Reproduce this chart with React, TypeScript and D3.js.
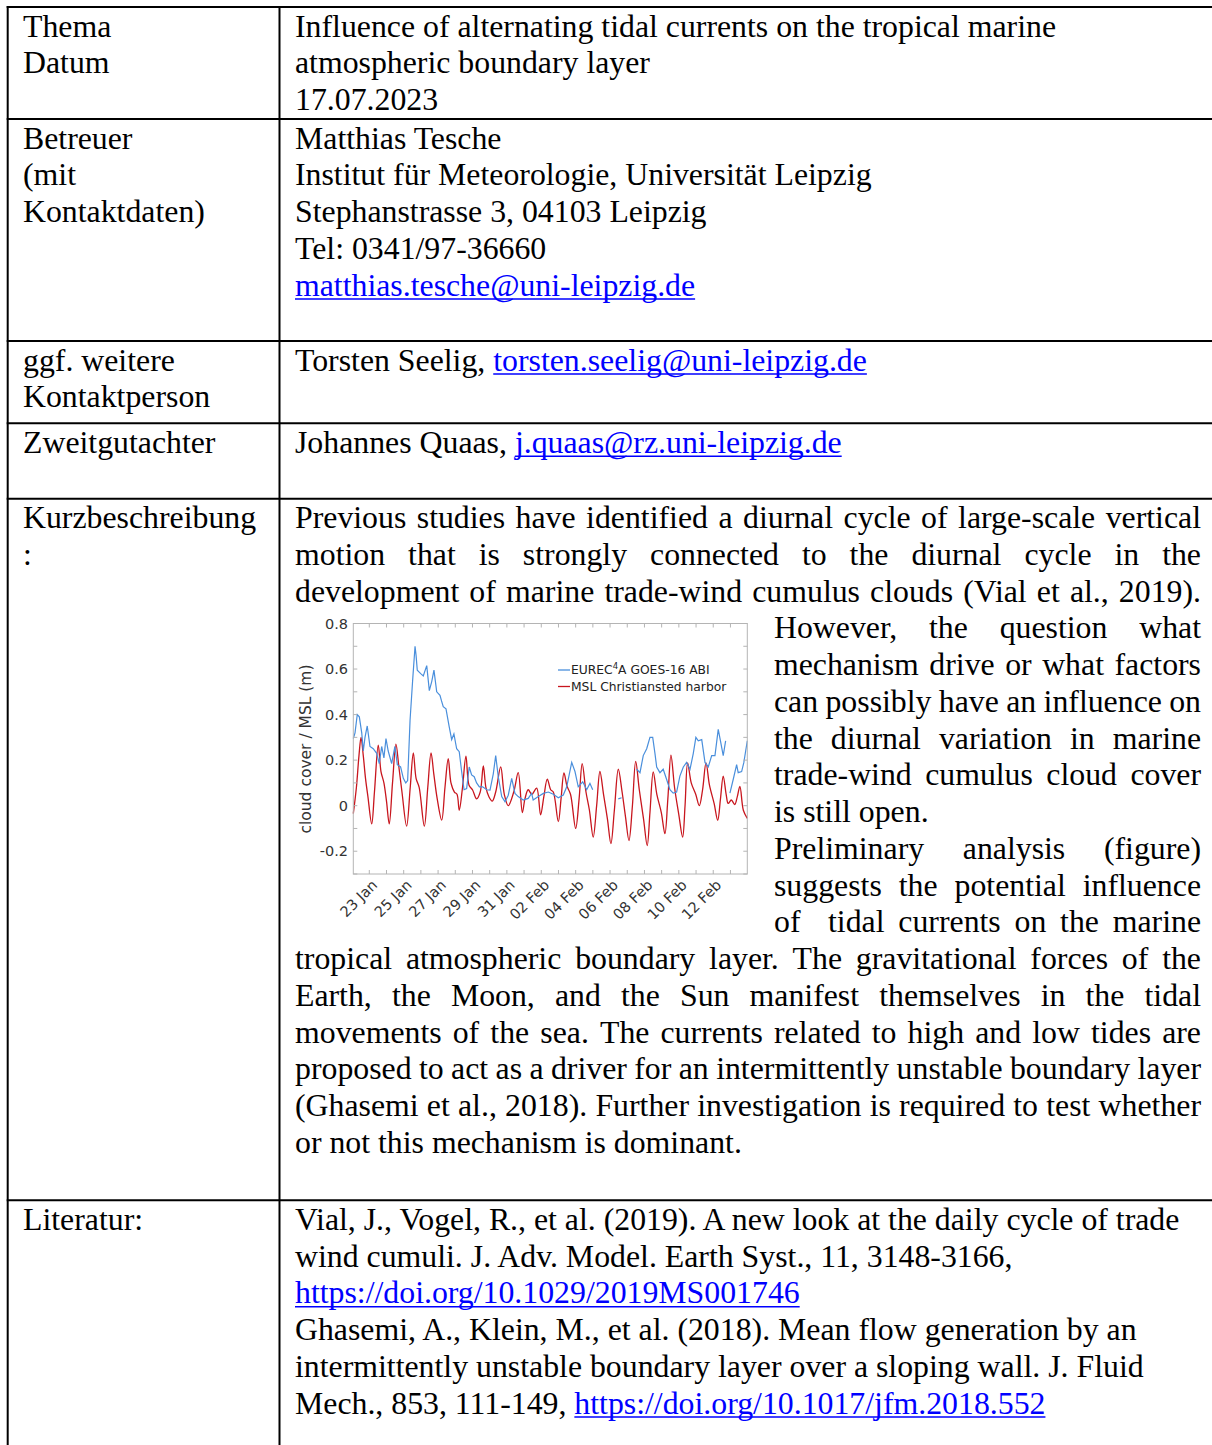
import React, { useMemo } from 'react';
import * as d3 from 'd3';

// ---- page / table layout ----
const SERIF = '"Liberation Serif", "Times New Roman", serif';
const SANS = '"DejaVu Sans", Verdana, sans-serif';
const FS = 31.8;
const LH = 36.75;
const LEFT_X = 23;
const RIGHT_X = 295;
const RIGHT_END = 1201;
const WRAP_X = 774;
const colLines = [7.7, 279.5];
const rowLines = [7, 119, 341, 423.3, 498.7, 1200.3];

const leftLabels = [
  ['Thema', 'Datum'],
  ['Betreuer', '(mit', 'Kontaktdaten)'],
  ['ggf. weitere', 'Kontaktperson'],
  ['Zweitgutachter'],
  ['Kurzbeschreibung', ':'],
  ['Literatur:'],
];

type Seg = { t: string; link?: boolean };

const themaLines: Seg[][] = [
  [{ t: 'Influence of alternating tidal currents on the tropical marine' }],
  [{ t: 'atmospheric boundary layer' }],
  [{ t: '17.07.2023' }],
];
const betreuerLines: Seg[][] = [
  [{ t: 'Matthias Tesche' }],
  [{ t: 'Institut für Meteorologie, Universität Leipzig' }],
  [{ t: 'Stephanstrasse 3, 04103 Leipzig' }],
  [{ t: 'Tel: 0341/97-36660' }],
  [{ t: 'matthias.tesche@uni-leipzig.de', link: true }],
];
const kontaktLines: Seg[][] = [
  [{ t: 'Torsten Seelig, ' }, { t: 'torsten.seelig@uni-leipzig.de', link: true }],
];
const gutachterLines: Seg[][] = [
  [{ t: 'Johannes Quaas, ' }, { t: 'j.quaas@rz.uni-leipzig.de', link: true }],
];
const literaturLines: Seg[][] = [
  [{ t: 'Vial, J., Vogel, R., et al. (2019). A new look at the daily cycle of trade' }],
  [{ t: 'wind cumuli. J. Adv. Model. Earth Syst., 11, 3148-3166,' }],
  [{ t: 'https://doi.org/10.1029/2019MS001746', link: true }],
  [{ t: 'Ghasemi, A., Klein, M., et al. (2018). Mean flow generation by an' }],
  [{ t: 'intermittently unstable boundary layer over a sloping wall. J. Fluid' }],
  [{ t: 'Mech., 853, 111-149, ' }, { t: 'https://doi.org/10.1017/jfm.2018.552', link: true }],
];

const summaryLines = [
  'Previous studies have identified a diurnal cycle of large-scale vertical',
  'motion that is strongly connected to the diurnal cycle in the',
  'development of marine trade-wind cumulus clouds (Vial et al., 2019).',
  'However, the question what',
  'mechanism drive or what factors',
  'can possibly have an influence on',
  'the diurnal variation in marine',
  'trade-wind cumulus cloud cover',
  'is still open.',
  'Preliminary analysis (figure)',
  'suggests the potential influence',
  'of  tidal currents on the marine',
  'tropical atmospheric boundary layer. The gravitational forces of the',
  'Earth, the Moon, and the Sun manifest themselves in the tidal',
  'movements of the sea. The currents related to high and low tides are',
  'proposed to act as a driver for an intermittently unstable boundary layer',
  '(Ghasemi et al., 2018). Further investigation is required to test whether',
  'or not this mechanism is dominant.',
];
const narrowFrom = 3;
const narrowTo = 11;
const raggedLines = [8, 17];

// ---- chart data (days since 22 Jan 2020 00:00 UTC) ----
const cloudDay = [
  0.07, 0.17, 0.3, 0.42, 0.56, 0.65, 0.75, 0.88, 1.04, 1.23, 1.43, 1.58, 1.72, 1.85, 1.97, 2.1,
  2.3, 2.49, 2.63, 2.82, 2.98, 3.12, 3.23, 3.37, 3.52, 3.66, 3.72, 3.79, 3.99, 4.14, 4.34, 4.49,
  4.63, 4.76, 4.92, 5.11, 5.2, 5.3, 5.46, 5.65, 5.79, 5.92, 6.08, 6.23, 6.37, 6.51, 6.66, 6.81,
  6.95, 7.1, 7.24, 7.4, 7.59, 7.83, 8.02, 8.21, 8.35, 8.5, 8.7, 8.89, 9.08, 9.28, 9.47, 9.66,
  9.95, 10.24, 10.44, 10.53, 10.83, 11.12, 11.41, 11.7, 11.99, 12.28, 12.48, 12.77, 12.96, 13.15,
  13.41, 13.64, 13.83, 13.99, 14.5, 15.48, 15.67, 16.1, 16.55, 16.74, 16.93, 17.13, 17.32, 17.48,
  17.61, 17.71, 17.9, 18.09, 18.29, 18.48, 18.67, 18.87, 19.06, 19.26, 19.45, 19.65, 19.84, 19.99,
  20.13, 20.33, 20.52, 20.71, 20.91, 21.1, 21.29, 21.43, 21.58, 21.72, 21.85, 21.97, 22.16, 22.36,
  22.45, 22.65, 22.78, 22.98,
];
const cloudCover = [
  0.295, 0.32, 0.4, 0.39, 0.32, 0.24, 0.3, 0.35, 0.26, 0.25, 0.23, 0.185, 0.26, 0.21, 0.295, 0.24,
  0.185, 0.26, 0.18, 0.17, 0.12, 0.1, 0.11, 0.375, 0.55, 0.7, 0.66, 0.595, 0.58, 0.57, 0.615, 0.505,
  0.545, 0.595, 0.5, 0.485, 0.46, 0.435, 0.425, 0.345, 0.29, 0.315, 0.25, 0.237, 0.15, 0.07, 0.075, 0.17,
  0.135, 0.127, 0.1, 0.083, 0.083, 0.07, 0.068, 0.14, 0.22, 0.127, 0.04, 0.017, 0.046, 0.12, 0.054, 0.04,
  0.025, 0.032, 0.054, 0.025, 0.04, 0.054, 0.06, 0.05, 0.035, 0.047, 0.083, 0.19, 0.15, 0.083,
  0.105, 0.07, 0.098, 0.07, null, 0.03, 0.035, null, 0.16, 0.145, 0.22, 0.25, 0.3, 0.3,
  0.23, 0.17, 0.145, 0.16, 0.115, 0.07, 0.055, 0.06, 0.13, 0.17, 0.19, 0.16, 0.23, 0.3,
  0.285, 0.29, 0.19, 0.17, 0.22, 0.22, 0.335, 0.28, 0.22, 0.285, null, 0.055, 0.115, 0.18,
  0.145, 0.15, 0.19, 0.285,
];

const tideDay = [
  0.07, 0.25, 0.4, 0.52, 0.65, 0.78, 0.92, 1.14, 1.3, 1.52, 1.68, 1.85, 2.0, 2.16, 2.35, 2.55,
  2.72, 2.9, 3.17, 3.38, 3.56, 3.72, 3.9, 4.2, 4.4, 4.59, 4.75, 4.95, 5.21, 5.4, 5.59, 5.75,
  5.95, 6.1, 6.23, 6.42, 6.62, 6.8, 7.0, 7.24, 7.45, 7.63, 7.78, 7.95, 8.15, 8.35, 8.64, 8.85,
  9.08, 9.4, 9.66, 9.9, 10.05, 10.24, 10.45, 10.73, 10.96, 11.15, 11.35, 11.55, 11.7, 11.99,
  12.15, 12.32, 12.5, 12.7, 13.0, 13.2, 13.38, 13.6, 13.8, 14.02, 14.22, 14.41, 14.62, 14.85,
  15.05, 15.25, 15.48, 15.7, 15.9, 16.1, 16.3, 16.49, 16.7, 16.95, 17.16, 17.32, 17.51, 17.72,
  17.98, 18.19, 18.36, 18.54, 18.75, 19.0, 19.22, 19.36, 19.51, 19.72, 19.98, 20.19, 20.38, 20.58,
  20.78, 21.05, 21.26, 21.42, 21.58, 21.75, 21.87, 22.05, 22.25, 22.4, 22.55, 22.75, 22.98,
];
const tideLevel = [
  -0.035, 0.08, 0.22, 0.3, 0.22, 0.12, 0.04, -0.08, 0.06, 0.266, 0.15, 0.1, 0.02, -0.08, 0.1, 0.27,
  0.17, 0.06, -0.09, 0.08, 0.232, 0.12, 0.08, -0.09, 0.08, 0.232, 0.14, 0.03, -0.063, 0.08, 0.207, 0.1,
  0.06, 0.05, -0.02, 0.08, 0.218, 0.09, 0.07, 0.03, 0.06, 0.175, 0.08, 0.04, 0.02, 0.06, 0.17, 0.05,
  0.0, 0.06, 0.145, -0.03, 0.03, 0.07, 0.05, 0.077, -0.04, 0.04, 0.117, 0.07, 0.06, -0.07,
  0.03, 0.144, 0.085, 0.05, -0.1, 0.03, 0.185, 0.06, -0.02, -0.138, 0.0, 0.15, 0.05, -0.06,
  -0.167, -0.02, 0.16, 0.06, -0.05, -0.153, 0.0, 0.195, 0.07, -0.06, -0.175, -0.03, 0.148, 0.05,
  -0.03, -0.123, 0.03, 0.222, 0.08, -0.04, -0.138, 0.0, 0.188, 0.1, 0.05, 0.0, 0.07, 0.188,
  0.09, 0.01, -0.064, 0.03, 0.13, 0.05, 0.01, 0.025, 0.005, 0.04, 0.085, -0.02, -0.056,
];

const xTickDays = [1, 3, 5, 7, 9, 11, 13, 15, 17, 19, 21];
const xTickLabels = ['23 Jan', '25 Jan', '27 Jan', '29 Jan', '31 Jan', '02 Feb', '04 Feb', '06 Feb', '08 Feb', '10 Feb', '12 Feb'];
const yTicks = [-0.2, 0, 0.2, 0.4, 0.6, 0.8];
const legendLabels = ['EUREC4A GOES-16 ABI', 'MSL Christiansted harbor'];
const seriesColors = ['#4a8fdc', '#c8161e'];

const START = Date.UTC(2020, 0, 22);
const toDate = (d: number) => new Date(START + d * 864e5);

const Chart = () => {
  const x = d3.scaleUtc().domain([toDate(0.07), toDate(22.98)]).range([353.3, 747.3]);
  const y = d3.scaleLinear().domain([-0.3, 0.8]).range([874, 623.5]);
  const [x0, x1] = x.range();
  const [yb, yt] = y.range();

  const cloud = cloudDay.map((d, i) => ({ t: toDate(d), v: cloudCover[i] }));
  const tide = tideDay.map((d, i) => ({ t: toDate(d), v: tideLevel[i] }));
  const cloudLine = d3.line<{ t: Date; v: number | null }>()
    .defined(d => d.v !== null)
    .x(d => x(d.t)).y(d => y(d.v as number));
  const tideLine = d3.line<{ t: Date; v: number }>()
    .x(d => x(d.t)).y(d => y(d.v))
    .curve(d3.curveCatmullRom.alpha(0.5));

  const minorX = d3.range(1, 23).map(d => x(toDate(d)));
  const minorY = d3.range(-3, 9).map(k => y(k / 10));
  const axisCol = '#b4b4b4';
  const tk = 4;

  return (
    <g fontFamily={SANS}>
      <rect x={x0} y={yt} width={x1 - x0} height={yb - yt} fill="#fff" />
      <path d={tideLine(tide) || ''} fill="none" stroke={seriesColors[1]} strokeWidth={1.3} />
      <path d={cloudLine(cloud) || ''} fill="none" stroke={seriesColors[0]} strokeWidth={1.2} />
      <rect x={x0} y={yt} width={x1 - x0} height={yb - yt} fill="none" stroke={axisCol} strokeWidth={1} />
      {minorX.map((px, i) => (
        <g key={'mx' + i} stroke={axisCol} strokeWidth={1}>
          <line x1={px} x2={px} y1={yb} y2={yb - tk} />
          <line x1={px} x2={px} y1={yt} y2={yt + tk} />
        </g>
      ))}
      {minorY.map((py, i) => (
        <g key={'my' + i} stroke={axisCol} strokeWidth={1}>
          <line x1={x0} x2={x0 + tk} y1={py} y2={py} />
          <line x1={x1} x2={x1 - tk} y1={py} y2={py} />
        </g>
      ))}
      {yTicks.map(v => (
        <text key={'yt' + v} x={348} y={y(v)} dy="0.36em" textAnchor="end" fontSize={14.5} fill="#333">
          {v === 0 ? '0' : v.toFixed(1)}
        </text>
      ))}
      {xTickDays.map((d, i) => {
        const px = x(toDate(d));
        return (
          <text key={'xt' + d} transform={`translate(${px + 9},${yb + 12}) rotate(-45)`} textAnchor="end" fontSize={14.5} fill="#333">
            {xTickLabels[i]}
          </text>
        );
      })}
      <text transform={`translate(311,749) rotate(-90)`} textAnchor="middle" fontSize={15.5} fill="#333">
        cloud cover / MSL (m)
      </text>
      {legendLabels.map((lab, i) => {
        const ly = 670 + i * 16.5;
        return (
          <g key={lab}>
            <line x1={558} x2={570} y1={ly} y2={ly} stroke={seriesColors[i]} strokeWidth={1.3} />
            <text x={571} y={ly} dy="0.36em" fontSize={12.3} fill="#222">
              {i === 0 ? (
                <>
                  <tspan>EUREC</tspan>
                  <tspan dy={-5} fontSize={8.5}>4</tspan>
                  <tspan dy={5}>A GOES-16 ABI</tspan>
                </>
              ) : lab}
            </text>
          </g>
        );
      })}
    </g>
  );
};

const App = () => {
  const ctx = useMemo(() => {
    const c = document.createElement('canvas').getContext('2d') as CanvasRenderingContext2D;
    c.font = `${FS}px "Liberation Serif"`;
    return c;
  }, []);
  const tw = (s: string) => ctx.measureText(s).width;

  const els: React.ReactNode[] = [];
  let key = 0;

  const segLine = (segs: Seg[], x: number, yb: number) => {
    let cx = x;
    segs.forEach(s => {
      const w = tw(s.t);
      els.push(
        <text key={key++} x={cx} y={yb} fill={s.link ? '#0000ff' : '#000'} xmlSpace="preserve" style={{ whiteSpace: 'pre' }}>
          {s.t}
        </text>
      );
      if (s.link) {
        els.push(<line key={key++} x1={cx} x2={cx + w} y1={yb + 3.5} y2={yb + 3.5} stroke="#0000ff" strokeWidth={1.6} />);
      }
      cx += w;
    });
  };

  const justLine = (str: string, xa: number, xb: number, yb: number) => {
    const words = str.split(' ');
    const total = d3.sum(words, w => tw(w));
    const gap = (xb - xa - total) / (words.length - 1);
    let cx = xa;
    words.forEach(w => {
      if (w) els.push(<text key={key++} x={cx} y={yb}>{w}</text>);
      cx += tw(w) + gap;
    });
  };

  // left column labels
  leftLabels.forEach((lines, r) => {
    lines.forEach((l, i) => {
      els.push(<text key={key++} x={LEFT_X} y={rowLines[r] + 29.5 + i * LH}>{l}</text>);
    });
  });

  const simpleCells: [number, Seg[][]][] = [
    [0, themaLines], [1, betreuerLines], [2, kontaktLines], [3, gutachterLines], [5, literaturLines],
  ];
  simpleCells.forEach(([r, lines]) => {
    lines.forEach((segs, i) => segLine(segs, RIGHT_X, rowLines[r] + 29.5 + i * LH));
  });

  summaryLines.forEach((l, i) => {
    const yb = rowLines[4] + 29.5 + i * LH;
    const xa = i >= narrowFrom && i <= narrowTo ? WRAP_X : RIGHT_X;
    if (raggedLines.includes(i)) segLine([{ t: l }], xa, yb);
    else justLine(l, xa, RIGHT_END, yb);
  });

  return (
    <svg width={1212} height={1445} style={{ position: 'absolute', left: 0, top: 0, background: '#fff' }}
      fontFamily={SERIF} fontSize={FS}>
      <rect width={1212} height={1445} fill="#fff" />
      {rowLines.map((ry, i) => (
        <line key={'r' + i} x1={6.7} x2={1212} y1={ry} y2={ry} stroke="#000" strokeWidth={2} />
      ))}
      {colLines.map((cx, i) => (
        <line key={'c' + i} x1={cx} x2={cx} y1={6} y2={1445} stroke="#000" strokeWidth={2} />
      ))}
      {els}
      <Chart />
    </svg>
  );
};

export default App;
